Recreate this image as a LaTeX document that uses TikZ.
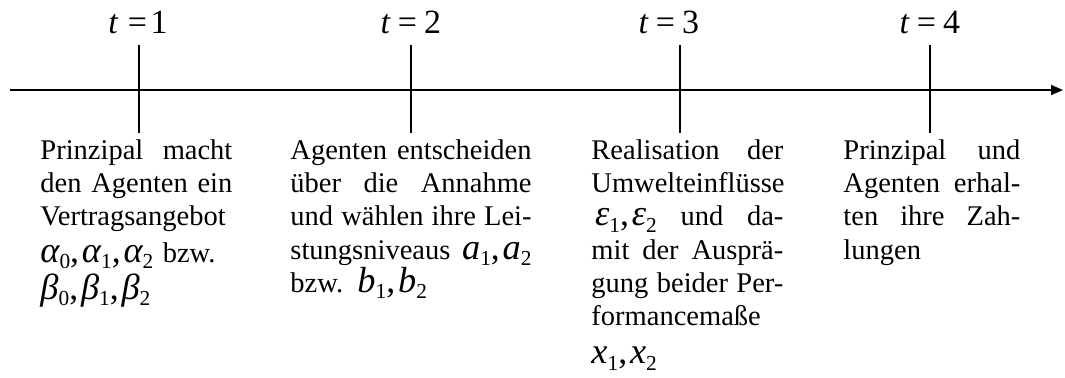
\documentclass[tikz,border=0pt]{standalone}
\usepackage{fontspec}
\setmainfont{Liberation Serif}
\usetikzlibrary{arrows.meta}
\newcommand\mvar[1]{{\fontsize{15.3}{15.3}\selectfont\itshape #1}}
\newcommand\msub[1]{\raisebox{-0.22em}{\fontsize{9}{9}\selectfont #1}}
\newcommand\mcomma{{\fontsize{15}{15}\selectfont,}\kern1.2pt}
\newcommand\jline[1]{\leavevmode\hbox to \cw{#1}}
\newcommand\cw{80pt}
\begin{document}
\begin{tikzpicture}[x=0.421pt,y=-0.421pt,
  axisline/.style={line width=0.6pt},
  tickline/.style={line width=0.6pt},
  tlabel/.style={font=\fontsize{14.3}{14.3}\selectfont, inner sep=0pt, anchor=base},
  desc/.style={inner sep=0pt, anchor=base west, align=left, font=\fontsize{12}{14.05}\selectfont}]
\useasboundingbox (0,0) rectangle (1065,377);
% axis
\coordinate (a0) at (10,90);
\coordinate (a1) at (1063,90);
\draw[axisline,-{Triangle[length=5pt,width=4.2pt]}] (a0) -- (a1);
% ticks
\coordinate (u1) at (139,45);  \coordinate (d1) at (139,133);
\coordinate (u2) at (411,45);  \coordinate (d2) at (411,133);
\coordinate (u3) at (680,45);  \coordinate (d3) at (680,133);
\coordinate (u4) at (930,45);  \coordinate (d4) at (930,133);
\draw[tickline] (u1) -- (d1);
\draw[tickline] (u2) -- (d2);
\draw[tickline] (u3) -- (d3);
\draw[tickline] (u4) -- (d4);
% time labels
\node[tlabel] (t1) at (138,33) {\textit{t}\kern4pt=\kern1.5pt1};
\node[tlabel] (t2) at (411,33) {\textit{t}\kern3pt=\kern3pt2};
\node[tlabel] (t3) at (669,33) {\textit{t}\kern3pt=\kern3pt3};
\node[tlabel] (t4) at (930,33) {\textit{t}\kern3pt=\kern3pt4};
% descriptions
\node[desc, text width=80.8pt] (c1) at (40,159) {\renewcommand\cw{80.8pt}%
\jline{Prinzipal\hfill macht}\\
\jline{den\hfill Agenten\hfill ein}\\
Vertragsangebot\\
\kern1.5pt\mvar{α}\msub{0}\mcomma\mvar{α}\msub{1}\mcomma\mvar{α}\msub{2} bzw.\\
\kern1.5pt\mvar{β}\msub{0}\mcomma\mvar{β}\msub{1}\mcomma\mvar{β}\msub{2}};
\node[desc, text width=101.5pt] (c2) at (290,159) {\renewcommand\cw{101.5pt}%
\jline{Agenten\hfill entscheiden}\\
\jline{über\hfill die\hfill Annahme}\\
\jline{und\hfill wählen\hfill ihre\hfill Lei-}\\
\jline{stungsniveaus\hfill \mvar{a}\msub{1}\mcomma\mvar{a}\msub{2}}\\
bzw. \mvar{b}\msub{1}\mcomma\mvar{b}\msub{2}};
\node[desc, text width=80.8pt] (c3) at (591,159) {\renewcommand\cw{80.8pt}%
\jline{Realisation\hfill der}\\
\jline{Umwelteinflüsse\hfill}\\
\jline{\kern1.5pt\mvar{ε}\msub{1}\mcomma\mvar{ε}\msub{2}\hfill und\hfill da-}\\
\jline{mit\hfill der\hfill Ausprä-}\\
\jline{gung\hfill beider\hfill Per-}\\
formancemaße\\
\kern2pt\mvar{x}\msub{1}\mcomma\mvar{x}\msub{2}};
\node[desc, text width=74.5pt] (c4) at (843,159) {\renewcommand\cw{74.5pt}%
\jline{Prinzipal\hfill und}\\
\jline{Agenten\hfill erhal-}\\
\jline{ten\hfill ihre\hfill Zah-}\\
lungen};
\end{tikzpicture}
\end{document}
